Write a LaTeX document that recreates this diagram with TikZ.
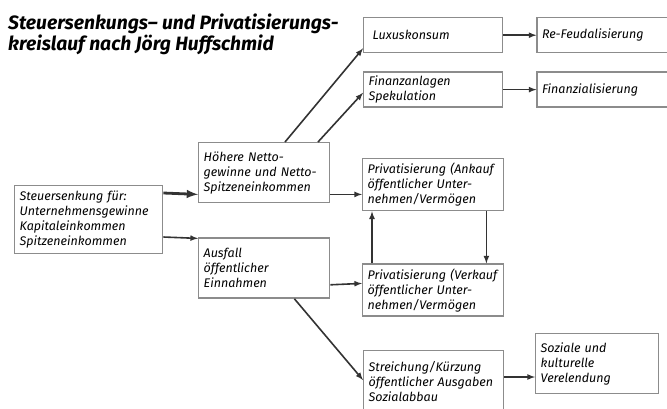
\documentclass[tikz,border=0pt]{standalone}
\usepackage{fontspec}
\setmainfont{Fira Sans}
\usetikzlibrary{positioning}
\hyphenpenalty=10000

\begin{document}
\begin{tikzpicture}[
    x=1pt, y=-1pt,
    node distance=33pt,
    box/.style={rectangle, draw=black!45, line width=1.4pt, fill=white,
                anchor=north west, align=left, inner xsep=5pt, inner ysep=0pt,
                font=\itshape\fontsize{12.5}{15}\selectfont},
    arrow/.style={-latex, line width=1.6pt, draw=black!80}
]
\clip (0,0) rectangle (667,408);
\node[anchor=north west, align=left, inner sep=0pt,
      font=\bfseries\itshape\fontsize{19.3}{21}\selectfont] (title) at (8,14)
  {Steuersenkungs– und Privatisierungs-\\kreislauf nach Jörg Huffschmid};
\node[box, text width=138pt, minimum height=68pt] (tax) at (14,185)
  {Steuersenkung für:\\Unternehmensgewinne\\Kapitaleinkommen\\Spitzeneinkommen};
\node[box, text width=121pt, minimum height=60pt] (net) at (198,142)
  {Höhere Netto-\\gewinne und Netto-\\Spitzeneinkommen};
\node[box, text width=121pt, minimum height=60pt, below=34pt of net] (loss)
  {Ausfall\\öffentlicher\\Einnahmen};
\node[box, text width=129pt, minimum height=35pt] (lux) at (363,17) {\hspace{4pt}Luxuskonsum};
\node[box, text width=129pt, minimum height=35pt, below=18pt of lux] (fin)
  {Finanzanlagen\\Spekulation};
\node[box, text width=140pt, minimum height=35pt, right=33pt of lux] (feud) {Re-Feudalisierung};
\node[box, text width=140pt, minimum height=35pt, right=33pt of fin] (finz) {Finanzialisierung};
\node[box, text width=131pt, minimum height=52pt] (buy) at (362,158)
  {Privatisierung (Ankauf\\öffentlicher Unter-\\nehmen/Vermögen};
\node[box, text width=131pt, minimum height=52pt, below=52pt of buy] (sell)
  {Privatisierung (Verkauf\\öffentlicher Unter-\\nehmen/Vermögen};
\node[box, text width=130pt, minimum height=62pt] (cut) at (363,350)
  {Streichung/Kürzung\\öffentlicher Ausgaben\\Sozialabbau};
\node[box, text width=113pt, minimum height=60pt] (soc) at (535,333)
  {Soziale und\\kulturelle\\Verelendung};
\draw[arrow, line width=2.8pt] ([yshift=-8pt]tax.north east) -- ([yshift=9pt]net.south west);
\draw[arrow] ([yshift=-52pt]tax.north east) -- ([yshift=-1pt]loss.north west);
\draw[arrow] ([xshift=87pt]net.north west) -- ([yshift=5pt]lux.south west);
\draw[arrow] ([xshift=120pt]net.north west) -- ([yshift=15pt]fin.south west);
\draw[arrow] (lux) -- (feud);
\draw[arrow] (fin) -- (finz);
\draw[arrow] ([yshift=9pt]net.south east) -- ([yshift=17pt]buy.south west);
\draw[arrow] ([yshift=14pt]loss.south east) -- ([yshift=-20pt]sell.north west);
\draw[arrow] ([xshift=10pt]sell.north west) -- ([xshift=10pt]buy.south west);
\draw[arrow] ([xshift=-18pt]buy.south east) -- ([xshift=-18pt]sell.north east);
\draw[arrow] ([xshift=-36pt]loss.south east) -- ([yshift=-30pt]cut.north west);
\draw[arrow] ([yshift=-27pt]cut.north east) -- ([yshift=-44pt]soc.north west);
\end{tikzpicture}
\end{document}
